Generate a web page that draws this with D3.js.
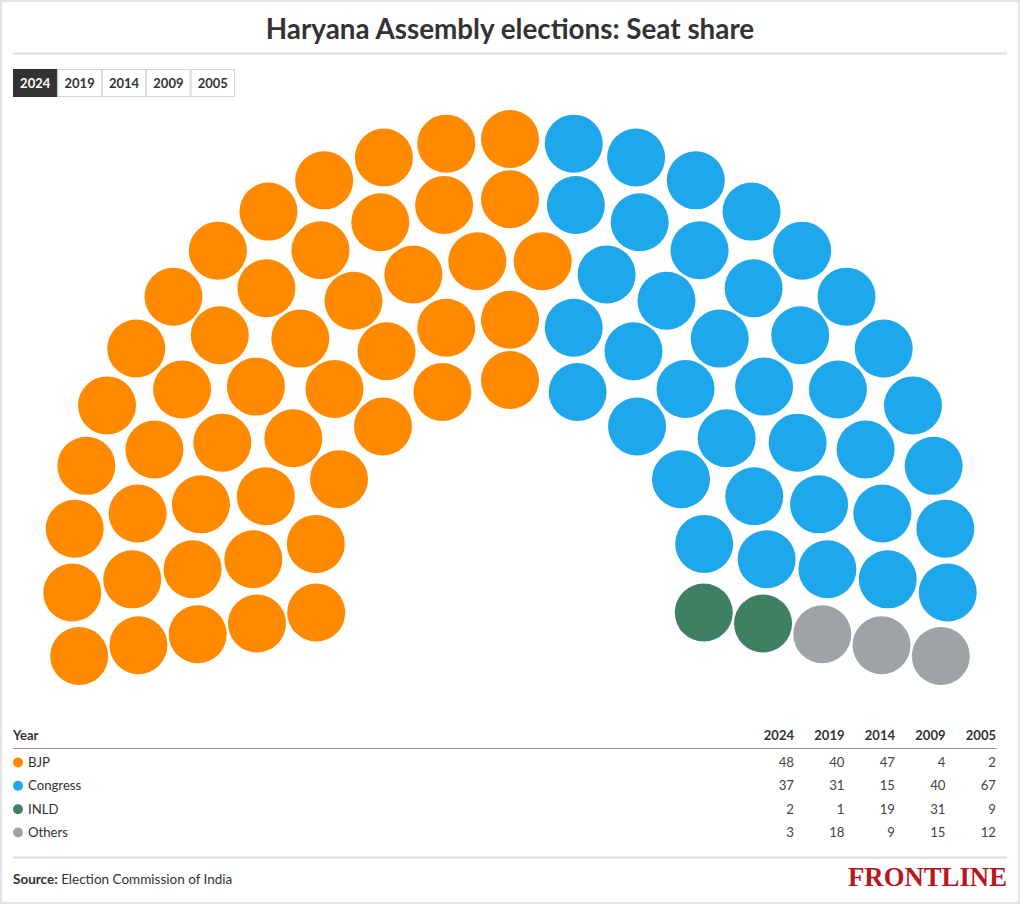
<!DOCTYPE html>
<html>
<head>
<meta charset="utf-8">
<script src="https://cdn.jsdelivr.net/npm/d3@7"></script>
<style>
  html, body { margin: 0; padding: 0; background: #fff; }
  body { width: 1020px; height: 904px; overflow: hidden; }
  svg { display: block; font-family: Lato, "Noto Sans", sans-serif; }
  .btn { cursor: pointer; }
</style>
</head>
<body>
<div id="app"></div>
<script>
const years = ['2024', '2019', '2014', '2009', '2005'];
const parties = ['BJP', 'Congress', 'INLD', 'Others'];
const bjpSeats = [48, 40, 47, 4, 2];
const congressSeats = [37, 31, 15, 40, 67];
const inldSeats = [2, 1, 19, 31, 9];
const othersSeats = [3, 18, 9, 15, 12];
const partyColors = ['#ff8a00', '#1ea7ea', '#3f7f62', '#9ea3a6'];

const seatsByParty = [bjpSeats, congressSeats, inldSeats, othersSeats];
const totalSeats = d3.sum(seatsByParty, s => s[0]);

const width = 1020;
const height = 904;
const rows = 5;
const seatRadius = 29;
const centre = [510, 577];
const overhang = 10.4 * Math.PI / 180;

const svg = d3.select('#app').append('svg')
  .attr('width', width)
  .attr('height', height);

// light frame around the graphic
svg.append('rect')
  .attr('x', 1).attr('y', 1)
  .attr('width', width - 2).attr('height', height - 2)
  .attr('fill', 'none')
  .attr('stroke', '#e2e2e2')
  .attr('stroke-width', 2);

svg.append('text')
  .attr('x', width / 2)
  .attr('y', 39)
  .attr('text-anchor', 'middle')
  .attr('font-size', 27.8)
  .attr('font-weight', 700)
  .attr('fill', '#333')
  .text('Haryana Assembly elections: Seat share');

svg.append('line')
  .attr('x1', 13).attr('x2', 1007)
  .attr('y1', 53.5).attr('y2', 53.5)
  .attr('stroke', '#ddd')
  .attr('stroke-width', 2);

const color = d3.scaleOrdinal().domain(parties).range(partyColors);

// ---- seat layout ----
const radius = d3.scaleLinear().domain([0, rows - 1]).range([197, 438]);
const radii = d3.range(rows).map(radius);
const radiusSum = d3.sum(radii);

const seats = [];
radii.forEach((r, row) => {
  const n = Math.round(totalSeats * r / radiusSum);
  const angle = d3.scaleLinear()
    .domain([0, n - 1])
    .range([Math.PI + overhang, -overhang]);
  d3.range(n).forEach(i => {
    const a = angle(i);
    seats.push({
      row,
      angle: a,
      x: centre[0] + r * Math.cos(a),
      y: centre[1] - r * Math.sin(a)
    });
  });
});

seats.sort((a, b) => {
  const da = Math.round(b.angle * 1e6) - Math.round(a.angle * 1e6);
  return da !== 0 ? da : a.row - b.row;
});

const seatGroup = svg.append('g');
const seatCircles = seatGroup.selectAll('circle')
  .data(seats)
  .join('circle')
  .attr('cx', d => d.x)
  .attr('cy', d => d.y)
  .attr('r', seatRadius);

const colourSeats = yearIndex => {
  const owners = [];
  parties.forEach((p, i) => {
    d3.range(seatsByParty[i][yearIndex]).forEach(() => owners.push(p));
  });
  seatCircles.attr('fill', (d, i) => color(owners[i]));
};

// ---- year buttons ----
const btnX = d3.scaleBand().domain(years).range([13, 235]);
const buttons = svg.append('g').selectAll('g')
  .data(years)
  .join('g')
  .classed('btn', true)
  .attr('transform', d => `translate(${btnX(d)},69)`);

buttons.append('rect')
  .attr('x', 0.5).attr('y', 0.5)
  .attr('width', btnX.bandwidth() - 1)
  .attr('height', 27)
  .attr('stroke', '#ccc');

buttons.append('text')
  .attr('x', btnX.bandwidth() / 2)
  .attr('y', 19)
  .attr('text-anchor', 'middle')
  .attr('font-size', 13)
  .attr('font-weight', 700);

const selectYear = year => {
  buttons.select('rect')
    .attr('fill', d => d === year ? '#333' : '#fff')
    .attr('stroke', d => d === year ? '#333' : '#d6d6d6');
  buttons.select('text')
    .attr('fill', d => d === year ? '#fff' : '#333')
    .text(d => d);
  colourSeats(years.indexOf(year));
};

buttons.on('click', (event, d) => selectYear(d));

// ---- table ----
const colX = d3.scalePoint().domain(years).range([794, 996]);
const rowY = d3.scalePoint().domain(parties).range([767, 837]);
const table = svg.append('g').attr('fill', '#333');

table.append('text')
  .attr('x', 13).attr('y', 740)
  .attr('font-size', 13)
  .attr('font-weight', 700)
  .text('Year');

table.selectAll('.colhead')
  .data(years)
  .join('text')
  .attr('class', 'colhead')
  .attr('x', colX)
  .attr('y', 740)
  .attr('text-anchor', 'end')
  .attr('font-size', 13)
  .attr('font-weight', 700)
  .text(d => d);

table.append('line')
  .attr('x1', 13).attr('x2', 997)
  .attr('y1', 748.5).attr('y2', 748.5)
  .attr('stroke', '#999');

const tableRows = table.selectAll('.row')
  .data(parties)
  .join('g')
  .attr('class', 'row')
  .attr('transform', d => `translate(0,${rowY(d)})`);

tableRows.append('circle')
  .attr('cx', 18).attr('cy', -4.5)
  .attr('r', 5)
  .attr('fill', d => color(d));

tableRows.append('text')
  .attr('x', 28)
  .attr('font-size', 13.2)
  .attr('fill', '#333')
  .text(d => d);

tableRows.selectAll('.val')
  .data((d, i) => seatsByParty[i].map((v, j) => ({ v, year: years[j] })))
  .join('text')
  .attr('class', 'val')
  .attr('x', d => colX(d.year))
  .attr('text-anchor', 'end')
  .attr('font-size', 13.2)
  .attr('fill', '#444')
  .text(d => d.v);

// ---- footer ----
svg.append('line')
  .attr('x1', 13).attr('x2', 1007)
  .attr('y1', 857.5).attr('y2', 857.5)
  .attr('stroke', '#ddd')
  .attr('stroke-width', 2);

const source = svg.append('text')
  .attr('x', 13).attr('y', 884)
  .attr('font-size', 13.5)
  .attr('fill', '#333');
source.append('tspan').attr('font-weight', 700).text('Source:');
source.append('tspan').text(' Election Commission of India');

svg.append('text')
  .attr('x', 1007).attr('y', 886)
  .attr('text-anchor', 'end')
  .attr('font-family', '"Liberation Serif", "DejaVu Serif", serif')
  .attr('font-size', 27)
  .attr('font-weight', 700)
  .attr('textLength', 159)
  .attr('lengthAdjust', 'spacingAndGlyphs')
  .attr('fill', '#b8161d')
  .text('FRONTLINE');

selectYear('2024');
</script>
</body>
</html>
